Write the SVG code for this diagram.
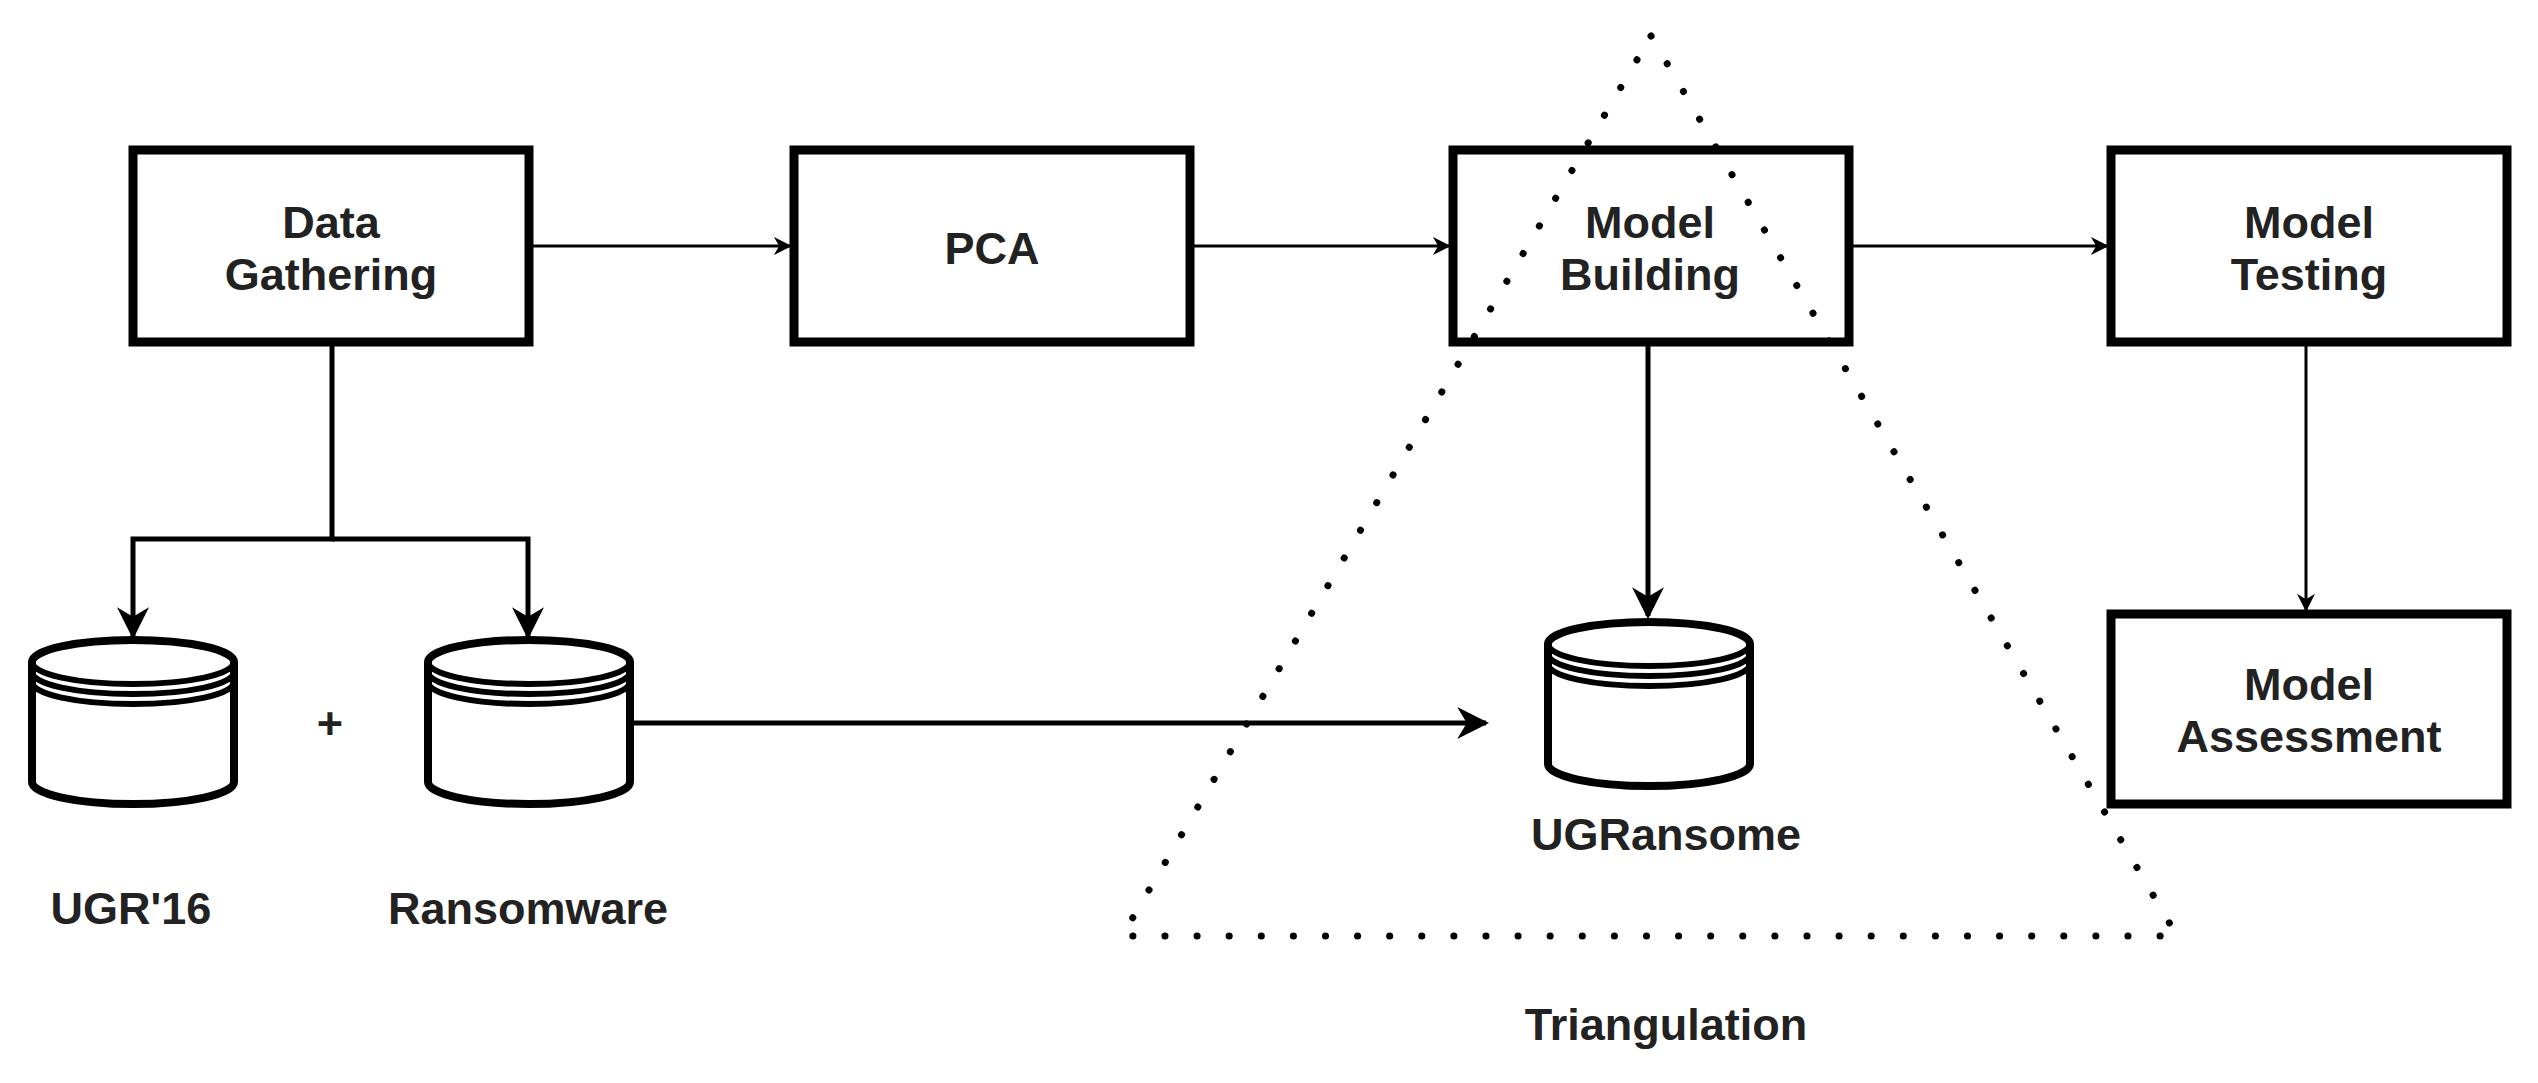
<svg xmlns="http://www.w3.org/2000/svg" width="2538" height="1083" viewBox="0 0 2538 1083">
<style>
.box{fill:none;stroke:#000;stroke-width:9}
.t{font-family:"Liberation Sans",Arial,sans-serif;font-weight:bold;font-size:45px;fill:#222;text-anchor:middle}
.c{stroke:#000;fill:none}
.cyl{fill:#fff;stroke:#000;stroke-width:8}
</style>
<defs>
<marker id="a" viewBox="0 0 10 10" refX="9" refY="5" markerWidth="32" markerHeight="32" markerUnits="userSpaceOnUse" orient="auto"><path d="M0,0 L10,5 L0,10 L3,5 z" fill="#000"/></marker>
<marker id="a2" viewBox="0 0 10 10" refX="9" refY="5" markerWidth="18" markerHeight="18" orient="auto" markerUnits="userSpaceOnUse"><path d="M0,0 L10,5 L0,10 L3,5 z" fill="#000"/></marker>
<g id="cy">
<path class="cyl" d="M0,22 V142 A101,22 0 0 0 202,142 V22 A101,22 0 0 0 0,22 Z"/>
<path class="c" stroke-width="6" d="M0,22 A101,22 0 0 0 202,22 M0,32 A101,22 0 0 0 202,32 M0,42 A101,22 0 0 0 202,42"/>
</g>
</defs>
<rect width="2538" height="1083" fill="#fff"/>
<polygon points="1651,36 2177,936 1122,936" fill="none" stroke="#000" stroke-width="7" stroke-linecap="round" stroke-dasharray="0.1 32"/>
<g id="connectors">
<path class="c" stroke-width="3" d="M531,246 H790" marker-end="url(#a2)"/>
<path class="c" stroke-width="3" d="M1190,246 H1449" marker-end="url(#a2)"/>
<path class="c" stroke-width="3" d="M1848,246 H2107" marker-end="url(#a2)"/>
<path class="c" stroke-width="3" d="M2306,343 V610" marker-end="url(#a2)"/>
<path class="c" stroke-width="5" d="M332,343 V539 H133 V636" marker-end="url(#a)"/>
<path class="c" stroke-width="5" d="M332,539 H528 V636" marker-end="url(#a)"/>
<path class="c" stroke-width="5" d="M631,723 H1486" marker-end="url(#a)"/>
<path class="c" stroke-width="5" d="M1648,343 V616" marker-end="url(#a)"/>
</g>
<g id="dg"><rect class="box" x="133" y="150" width="396" height="192"/><text class="t" x="331" y="238">Data</text><text class="t" x="331" y="290">Gathering</text></g>
<g id="pca"><rect class="box" x="794" y="150" width="396" height="192"/><text class="t" x="992" y="264">PCA</text></g>
<g id="mb"><rect class="box" x="1453" y="150" width="396" height="192"/><text class="t" x="1650" y="238">Model</text><text class="t" x="1650" y="290">Building</text></g>
<g id="mt"><rect class="box" x="2111" y="150" width="396" height="192"/><text class="t" x="2309" y="238">Model</text><text class="t" x="2309" y="290">Testing</text></g>
<g id="ma"><rect class="box" x="2111" y="614" width="396" height="190"/><text class="t" x="2309" y="700">Model</text><text class="t" x="2309" y="752">Assessment</text></g>
<g id="ugr16"><use href="#cy" x="32" y="640"/><text class="t" x="131" y="924">UGR'16</text></g>
<text class="t" x="330" y="739">+</text>
<g id="ransomware"><use href="#cy" x="428" y="640"/><text class="t" x="528" y="924">Ransomware</text></g>
<g id="ugransome"><use href="#cy" x="1548" y="622"/><text class="t" x="1666" y="850">UGRansome</text></g>
<text class="t" x="1666" y="1040">Triangulation</text>
</svg>
